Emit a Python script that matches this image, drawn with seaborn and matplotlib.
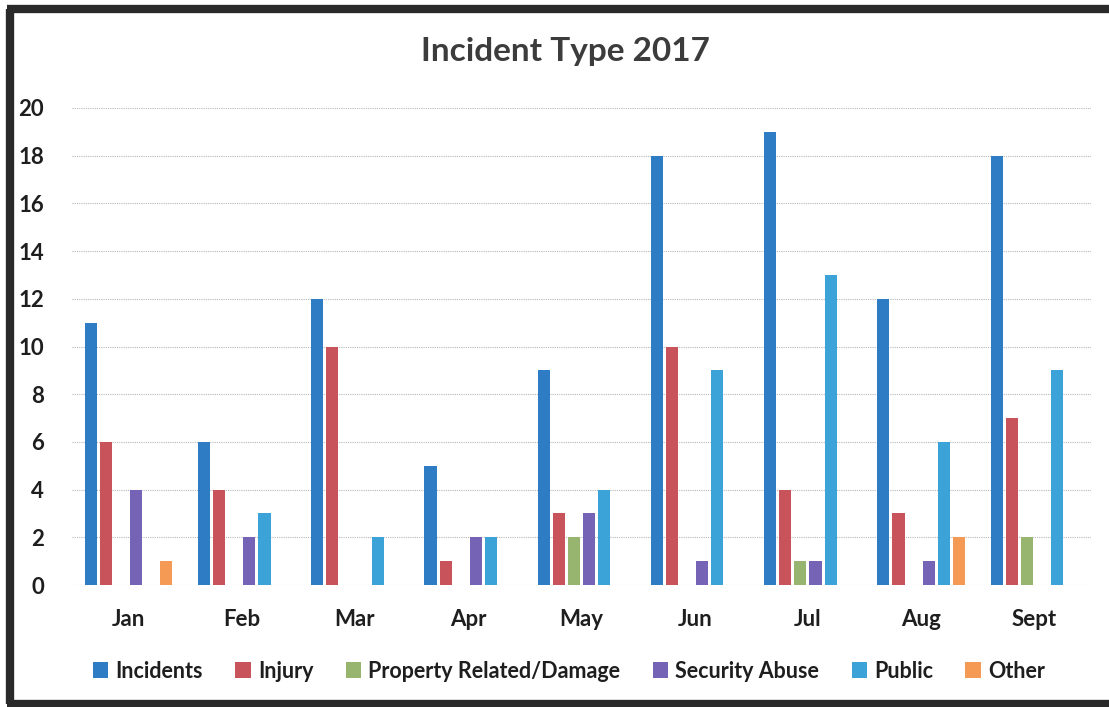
import matplotlib
matplotlib.use("Agg")
import matplotlib.pyplot as plt
from matplotlib.patches import Patch
from matplotlib.lines import Line2D
import seaborn as sns
import pandas as pd

months = ["Jan", "Feb", "Mar", "Apr", "May", "Jun", "Jul", "Aug", "Sept"]
incidents = [11, 6, 12, 5, 9, 18, 19, 12, 18]
injury = [6, 4, 10, 1, 3, 10, 4, 3, 7]
property_damage = [0, 0, 0, 0, 2, 0, 1, 0, 2]
security_abuse = [4, 2, 0, 2, 3, 1, 1, 1, 0]
public = [0, 3, 2, 2, 4, 9, 13, 6, 9]
other = [1, 0, 0, 0, 0, 0, 0, 2, 0]

series_names = ["Incidents", "Injury", "Property Related/Damage",
                "Security Abuse", "Public", "Other"]
series_values = [incidents, injury, property_damage, security_abuse, public, other]
colors = ["#2E7DC4", "#C9535B", "#97B56E", "#7563B5", "#3CA3D8", "#F59A55"]
y_ticks = [0, 2, 4, 6, 8, 10, 12, 14, 16, 18, 20]

rows = []
for name, vals in zip(series_names, series_values):
    for m, v in zip(months, vals):
        rows.append({"Month": m, "Type": name, "Count": v})
df = pd.DataFrame(rows)

sns.set_theme(style="white")
plt.rcParams["font.family"] = ["Lato", "DejaVu Sans"]

W, H = 1109, 707
fig = plt.figure(figsize=(W / 100, H / 100), dpi=100)
fig.patch.set_facecolor("white")

ax = fig.add_axes([72 / W, 122 / H, (1091 - 72) / W, (585 - 108) / H])
sns.barplot(data=df, x="Month", y="Count", hue="Type", order=months,
            hue_order=series_names, palette=colors, width=0.8, gap=0.2,
            saturation=1, ax=ax, legend=False, linewidth=0)

ax.set_ylim(0, 20)
ax.set_xlim(-0.5, len(months) - 0.5)
ax.set_yticks(y_ticks)
ax.yaxis.grid(True, color="#b8b8b8", linewidth=0.8, linestyle=(0, (1, 1)))
ax.set_axisbelow(True)
for s in ax.spines.values():
    s.set_visible(False)
ax.set_xlabel("")
ax.set_ylabel("")
ax.tick_params(axis="y", length=0, pad=20, labelsize=16, labelcolor="#1e1e1e")
ax.tick_params(axis="x", length=0, pad=17, labelsize=16, labelcolor="#1e1e1e")
for lab in ax.get_yticklabels() + ax.get_xticklabels():
    lab.set_fontweight("bold")

fig.text(565 / W, 1 - 52 / H, "Incident Type 2017", ha="center", va="center",
         fontsize=24, fontweight="bold", color="#3c3c3c")

handles = [Patch(facecolor=c, edgecolor="none") for c in colors]
leg = fig.legend(handles, series_names, loc="center", ncol=6,
                 bbox_to_anchor=(569 / W, 1 - 671 / H), frameon=False,
                 prop={"size": 15.5, "weight": "bold"}, handlelength=0.7,
                 handleheight=0.7, handletextpad=0.35, columnspacing=1.5)
for t in leg.get_texts():
    t.set_color("#1e1e1e")

# dark frame on the top, left and bottom edges
frame_kw = dict(transform=fig.transFigure, color="#2a2a2a", linewidth=6,
                solid_capstyle="butt")
top_y, bot_y, left_x = 1 - 9 / H, 1 - 704 / H, 10 / W
fig.add_artist(Line2D([left_x - 3 / W, 1.0], [top_y, top_y], **frame_kw))
fig.add_artist(Line2D([left_x - 3 / W, 1.0], [bot_y, bot_y], **frame_kw))
fig.add_artist(Line2D([left_x, left_x], [bot_y, top_y], **frame_kw))

fig.savefig("out.png", dpi=100)
